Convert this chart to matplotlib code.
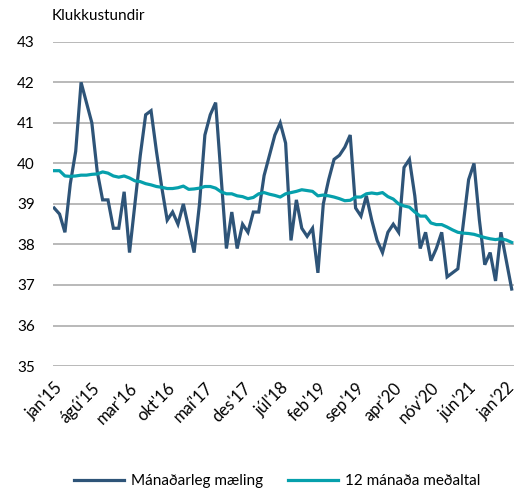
import numpy as np
import matplotlib.pyplot as plt

plt.rcParams['font.family'] = ['Lato', 'DejaVu Sans']

# ---- gögn: mánaðarleg mæling og 12 mánaða meðaltal, jan'15 - feb'22 ----
monthly = [38.9, 38.75, 38.3, 39.5, 40.3, 42.0, 41.5, 41.0, 39.8, 39.1, 39.1, 38.4,   # 2015
           38.4, 39.3, 37.8, 39.0, 40.2, 41.2, 41.3, 40.3, 39.4, 38.6, 38.8, 38.5,    # 2016
           39.0, 38.4, 37.8, 39.0, 40.7, 41.2, 41.5, 39.7, 37.9, 38.8, 37.9, 38.5,    # 2017
           38.3, 38.8, 38.8, 39.7, 40.2, 40.7, 41.0, 40.5, 38.1, 39.1, 38.4, 38.2,    # 2018
           38.4, 37.3, 39.0, 39.6, 40.1, 40.2, 40.4, 40.7, 38.9, 38.7, 39.2, 38.6,    # 2019
           38.1, 37.8, 38.3, 38.5, 38.3, 39.9, 40.1, 39.2, 37.9, 38.3, 37.6, 37.9,    # 2020
           38.3, 37.2, 37.3, 37.4, 38.5, 39.6, 40.0, 38.6, 37.5, 37.8, 37.1, 38.3,    # 2021
           37.6, 36.9]                                                                # 2022

avg12 = [39.82, 39.82, 39.69, 39.68, 39.69, 39.71, 39.71, 39.73, 39.74, 39.79, 39.76, 39.69,
         39.66, 39.69, 39.64, 39.57, 39.55, 39.50, 39.47, 39.43, 39.41, 39.38, 39.38, 39.40,
         39.44, 39.36, 39.37, 39.39, 39.43, 39.43, 39.39, 39.30, 39.25, 39.25, 39.20, 39.18,
         39.13, 39.16, 39.25, 39.28, 39.24, 39.21, 39.17, 39.25, 39.28, 39.31, 39.35, 39.33,
         39.31, 39.20, 39.22, 39.20, 39.17, 39.13, 39.08, 39.09, 39.17, 39.17, 39.25, 39.27,
         39.25, 39.28, 39.18, 39.12, 39.00, 38.95, 38.92, 38.80, 38.70, 38.70, 38.53, 38.49,
         38.49, 38.43, 38.36, 38.30, 38.28, 38.27, 38.25, 38.21, 38.17, 38.14, 38.12, 38.14,
         38.11, 38.05]

tick_labels = ["jan'15", "ágú'15", "mar'16", "okt'16", "maí'17", "des'17", "júl'18",
               "feb'19", "sep'19", "apr'20", "nóv'20", "jún'21", "jan'22"]

x = np.arange(len(monthly))

fig = plt.figure(figsize=(5.23, 4.92), dpi=100)
ax = fig.add_axes([0.101, 0.256, 0.882, 0.659])

ax.plot(x, monthly, color='#2E5478', lw=2.3, solid_joinstyle='miter',
        label='Mánaðarleg mæling', zorder=3)
ax.plot(x, avg12, color='#06A0AC', lw=2.3, label='12 mánaða meðaltal', zorder=4)

ax.set_ylim(35, 43)
ax.set_yticks(range(35, 44))
ax.set_xlim(-0.25, 85.45)
ax.set_xticks(x[::7])
ax.set_xticklabels(tick_labels)
plt.setp(ax.get_xticklabels(), rotation=45, ha='right', va='top', rotation_mode='anchor')

ax.grid(axis='y', color='#A5A5A5', lw=1.1)
ax.set_axisbelow(True)
for s in ax.spines.values():
    s.set_visible(False)
ax.tick_params(axis='both', length=0, labelsize=11, colors='black')
ax.tick_params(axis='y', pad=13)
ax.tick_params(axis='x', pad=10, labelsize=12)

fig.text(0.098, 0.967, 'Klukkustundir', fontsize=11, va='center', ha='left')

fig.legend(loc='center', bbox_to_anchor=(0.53, 0.022), ncol=2, frameon=False,
           fontsize=11, handlelength=3.3, handletextpad=0.45, columnspacing=1.6)

fig.savefig('out.png', dpi=100)
